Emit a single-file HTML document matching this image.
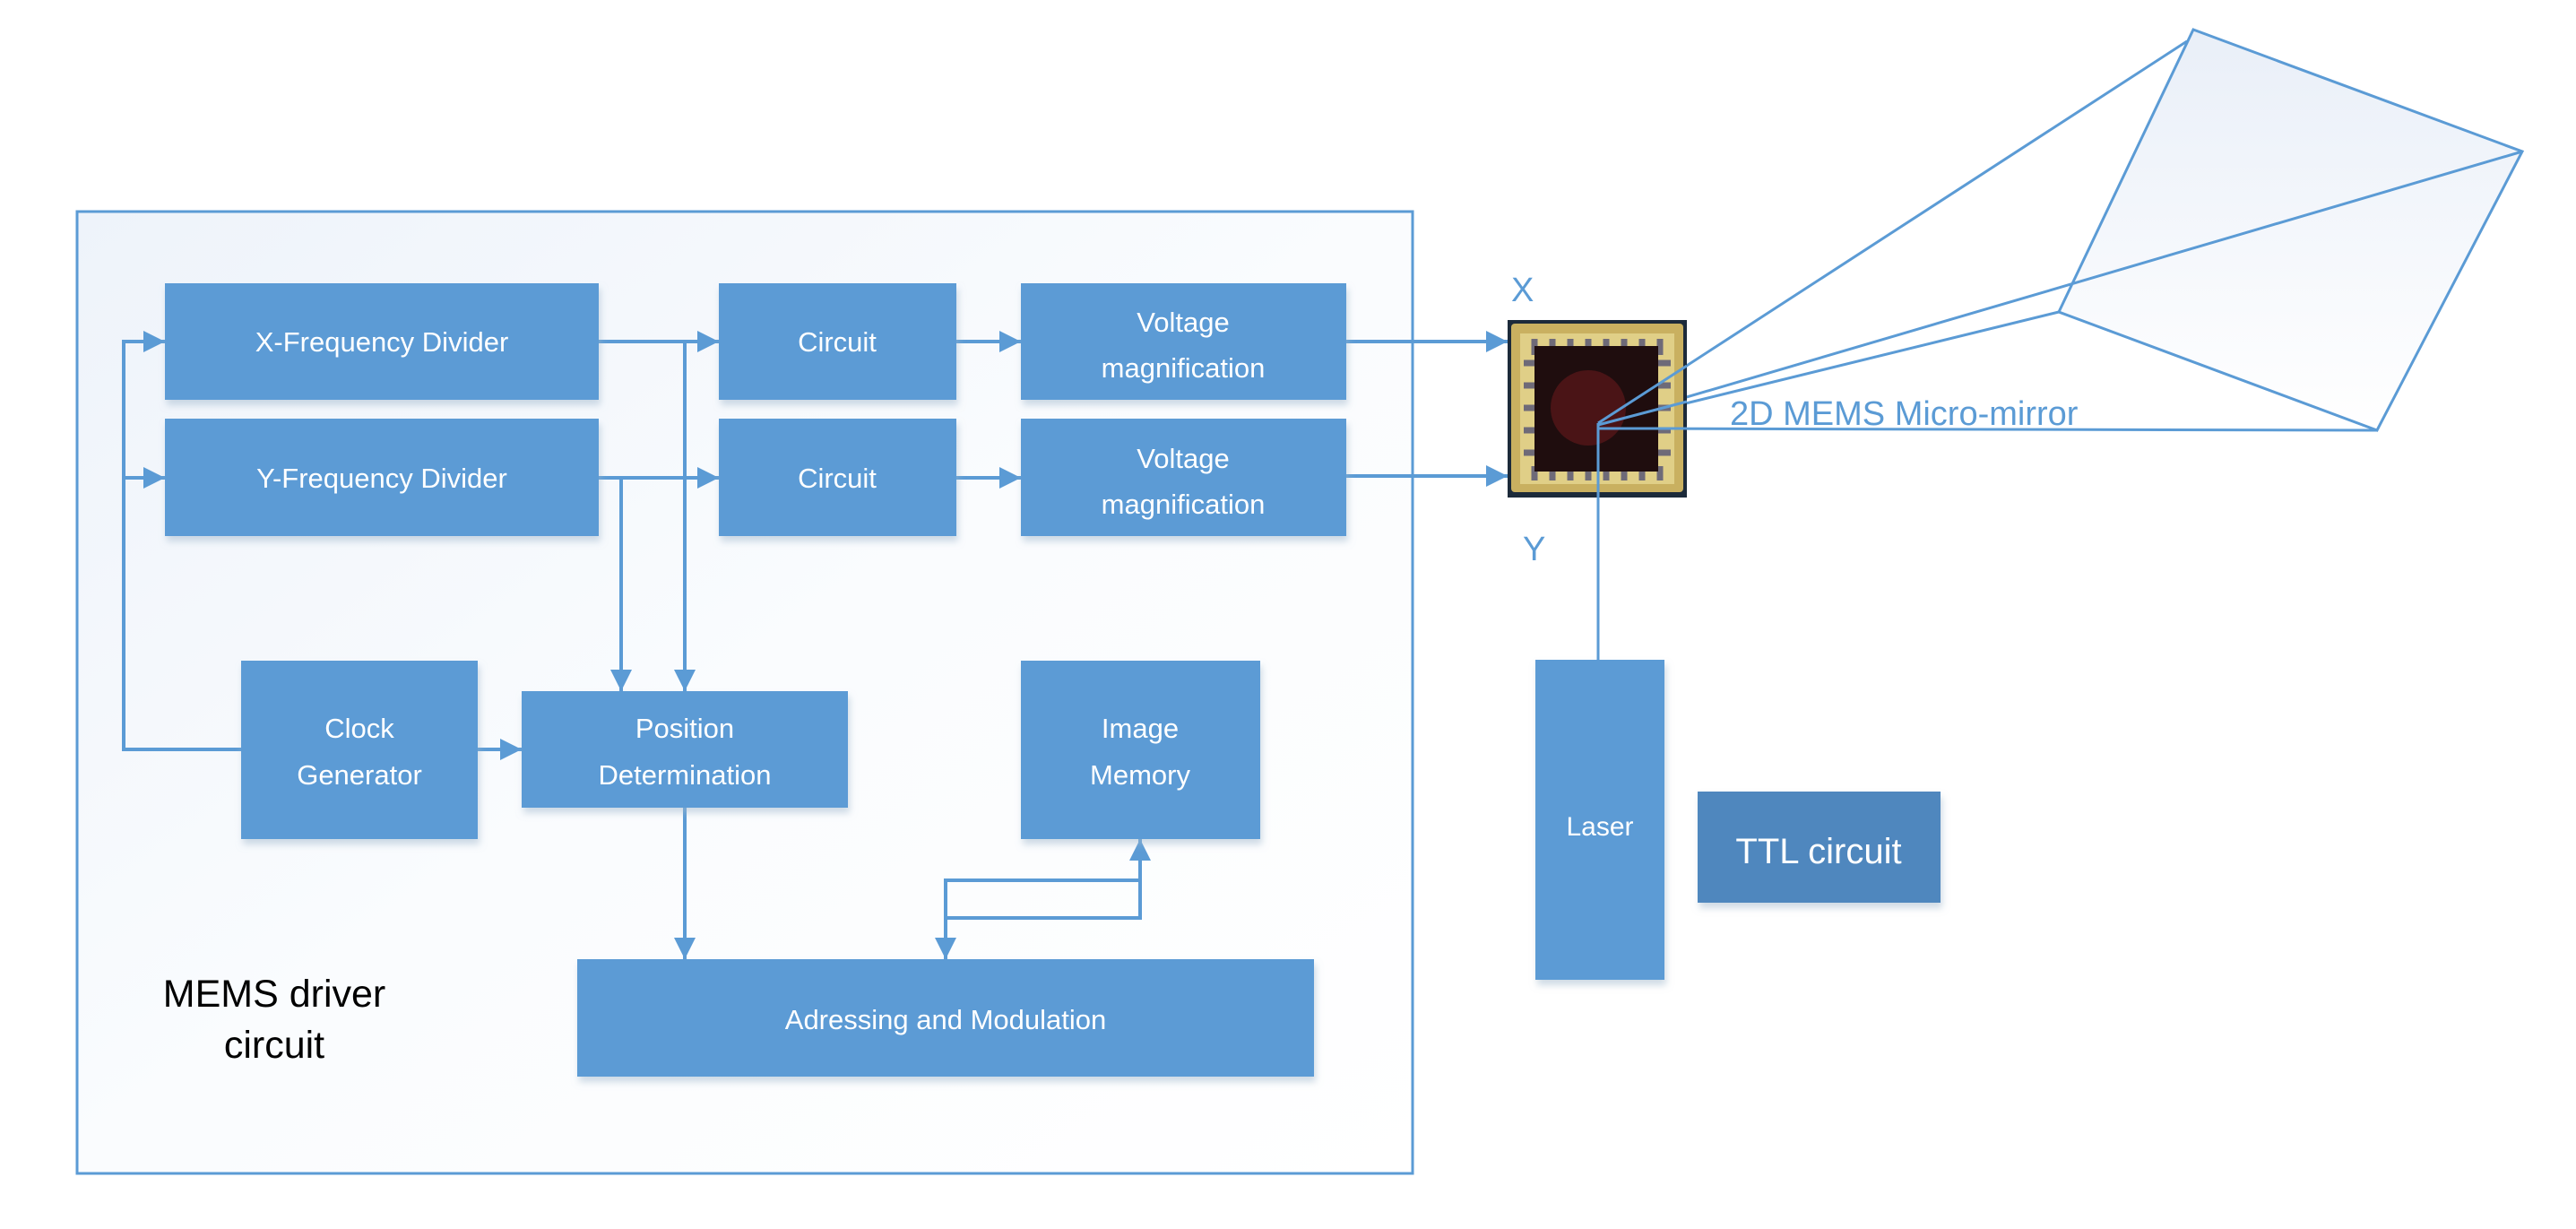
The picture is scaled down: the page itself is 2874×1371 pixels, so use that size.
<!DOCTYPE html>
<html><head><meta charset="utf-8"><style>
html,body{margin:0;padding:0;background:#fff;}
svg{display:block;}
text{font-family:"Liberation Sans",sans-serif;}
</style></head><body>
<svg width="2874" height="1371" viewBox="0 0 2874 1371" xmlns="http://www.w3.org/2000/svg">
<defs>
<linearGradient id="bg" x1="0" y1="0" x2="1" y2="1">
<stop offset="0" stop-color="#eef3fa"/><stop offset="0.5" stop-color="#fafcfe"/><stop offset="1" stop-color="#ffffff"/>
</linearGradient>
<linearGradient id="qg" x1="0" y1="0" x2="0" y2="1">
<stop offset="0" stop-color="#e9eff8"/><stop offset="1" stop-color="#ffffff"/>
</linearGradient>
<marker id="a" viewBox="0 0 10 10" refX="10" refY="5" markerWidth="24" markerHeight="26" markerUnits="userSpaceOnUse" orient="auto">
<path d="M0,0 L10,5 L0,10 z" fill="#5b9bd5"/>
</marker>
<filter id="sh" x="-5%" y="-5%" width="115%" height="125%">
<feDropShadow dx="2" dy="6" stdDeviation="4" flood-color="#9fb6cc" flood-opacity="0.5"/>
</filter>
</defs>

<rect x="86" y="236" width="1490" height="1073" fill="url(#bg)" stroke="#5b9bd5" stroke-width="3"/>

<g stroke="#5b9bd5" stroke-width="4" fill="none">
<path d="M269,836 H138 V381 H184" marker-end="url(#a)"/>
<path d="M138,533 H184" marker-end="url(#a)"/>
<path d="M668,381 H802" marker-end="url(#a)"/>
<path d="M668,533 H802" marker-end="url(#a)"/>
<path d="M764,381 V771" marker-end="url(#a)"/>
<path d="M693,533 V771" marker-end="url(#a)"/>
<path d="M1067,381 H1139" marker-end="url(#a)"/>
<path d="M1067,533 H1139" marker-end="url(#a)"/>
<path d="M533,836 H582" marker-end="url(#a)"/>
<path d="M764,901 V1070" marker-end="url(#a)"/>
<path d="M1055,1024 H1272 V936" marker-end="url(#a)"/>
<path d="M1272,982 H1055 V1070" marker-end="url(#a)"/>
<path d="M1502,381 H1682" marker-end="url(#a)"/>
<path d="M1502,531 H1682" marker-end="url(#a)"/>
</g>

<g fill="#5b9bd5" filter="url(#sh)">
<rect x="184" y="316" width="484" height="130"/>
<rect x="184" y="467" width="484" height="131"/>
<rect x="802" y="316" width="265" height="130"/>
<rect x="802" y="467" width="265" height="131"/>
<rect x="1139" y="316" width="363" height="130"/>
<rect x="1139" y="467" width="363" height="131"/>
<rect x="269" y="737" width="264" height="199"/>
<rect x="582" y="771" width="364" height="130"/>
<rect x="1139" y="737" width="267" height="199"/>
<rect x="644" y="1070" width="822" height="131"/>
<rect x="1713" y="736" width="144" height="357"/>
<rect x="1894" y="883" width="271" height="124" fill="#4f87be"/>
</g>

<g fill="#fff" font-size="31" text-anchor="middle">
<text x="426" y="392">X-Frequency Divider</text>
<text x="426" y="544">Y-Frequency Divider</text>
<text x="934" y="392">Circuit</text>
<text x="934" y="544">Circuit</text>
<text x="1320" y="370">Voltage</text>
<text x="1320" y="421">magnification</text>
<text x="1320" y="522">Voltage</text>
<text x="1320" y="573">magnification</text>
<text x="401" y="823">Clock</text>
<text x="401" y="875">Generator</text>
<text x="764" y="823">Position</text>
<text x="764" y="875">Determination</text>
<text x="1272" y="823">Image</text>
<text x="1272" y="875">Memory</text>
<text x="1055" y="1148">Adressing and Modulation</text>
<text x="1785" y="932" font-size="30">Laser</text>
<text x="2029" y="963" font-size="40">TTL circuit</text>
</g>

<g fill="#000" font-size="43" text-anchor="middle">
<text x="306" y="1123">MEMS driver</text>
<text x="306" y="1180">circuit</text>
</g>

<polygon points="2447,33 2814,169 2652,480 2297,348" fill="url(#qg)" stroke="#5b9bd5" stroke-width="3"/>
<g stroke="#5b9bd5" stroke-width="3" fill="none">
<line x1="1783" y1="472" x2="2440" y2="46"/>
<line x1="1783" y1="472" x2="2814" y2="169"/>
<line x1="1783" y1="474" x2="2297" y2="348"/>
<line x1="1783" y1="478" x2="2652" y2="480"/>
<line x1="1783" y1="472" x2="1783" y2="736"/>
</g>

<g>
<rect x="1682" y="357" width="200" height="198" fill="#1c2a3a"/>
<rect x="1686" y="361" width="192" height="188" fill="#c9b060" rx="4"/>
<rect x="1696" y="372" width="172" height="168" fill="#e0cf87"/>
<g stroke="#6e6a78" stroke-width="7">
<line x1="1712" y1="378" x2="1712" y2="396"/><line x1="1732" y1="378" x2="1732" y2="396"/><line x1="1752" y1="378" x2="1752" y2="396"/><line x1="1772" y1="378" x2="1772" y2="396"/><line x1="1792" y1="378" x2="1792" y2="396"/><line x1="1812" y1="378" x2="1812" y2="396"/><line x1="1832" y1="378" x2="1832" y2="396"/><line x1="1852" y1="378" x2="1852" y2="396"/>
<line x1="1712" y1="520" x2="1712" y2="536"/><line x1="1732" y1="520" x2="1732" y2="536"/><line x1="1752" y1="520" x2="1752" y2="536"/><line x1="1772" y1="520" x2="1772" y2="536"/><line x1="1792" y1="520" x2="1792" y2="536"/><line x1="1812" y1="520" x2="1812" y2="536"/><line x1="1832" y1="520" x2="1832" y2="536"/><line x1="1852" y1="520" x2="1852" y2="536"/>
<line x1="1700" y1="405" x2="1716" y2="405"/><line x1="1700" y1="430" x2="1716" y2="430"/><line x1="1700" y1="455" x2="1716" y2="455"/><line x1="1700" y1="480" x2="1716" y2="480"/><line x1="1700" y1="505" x2="1716" y2="505"/>
<line x1="1848" y1="405" x2="1864" y2="405"/><line x1="1848" y1="430" x2="1864" y2="430"/><line x1="1848" y1="455" x2="1864" y2="455"/><line x1="1848" y1="480" x2="1864" y2="480"/><line x1="1848" y1="505" x2="1864" y2="505"/>
</g>
<rect x="1712" y="386" width="138" height="140" fill="#1f0d0e"/>
<circle cx="1772" cy="455" r="42" fill="#4a1416"/>
</g>
<g stroke="#5b9bd5" stroke-width="3" fill="none">
<line x1="1783" y1="472" x2="1882" y2="408"/>
<line x1="1783" y1="474" x2="1882" y2="448"/>
<line x1="1783" y1="478" x2="1882" y2="478"/>
<line x1="1783" y1="472" x2="1783" y2="555"/>
</g>

<g fill="#5b9bd5" font-size="38">
<text x="1686" y="336">X</text>
<text x="1699" y="625">Y</text>
<text x="1930" y="474">2D MEMS Micro-mirror</text>
</g>
</svg>
</body></html>
